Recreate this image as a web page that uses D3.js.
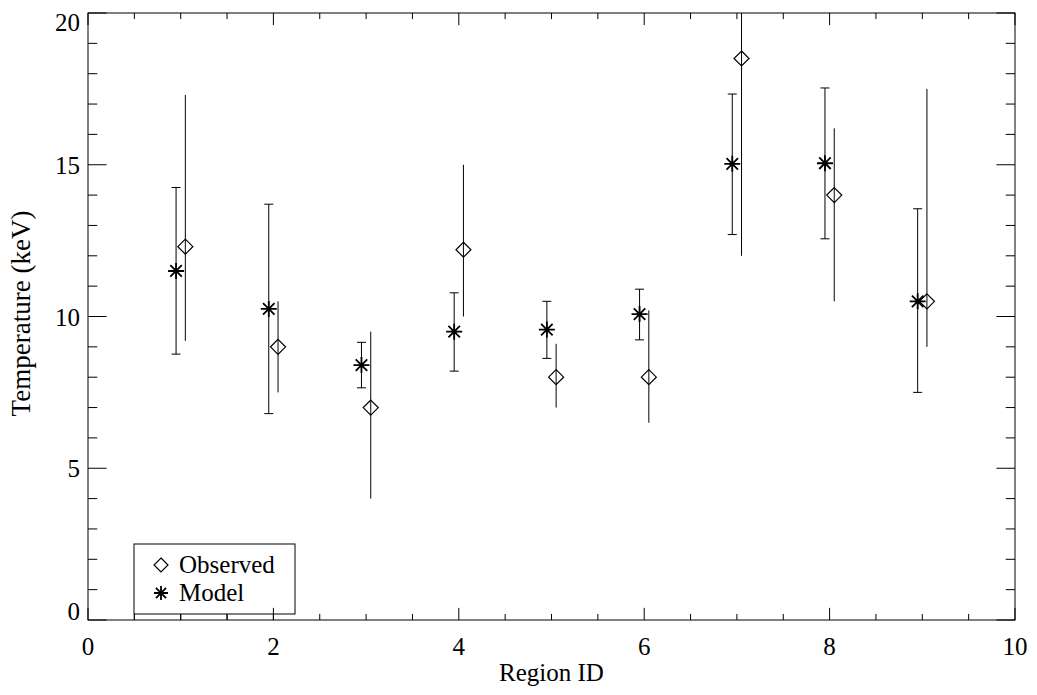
<!DOCTYPE html>
<html>
<head>
<meta charset="utf-8">
<script src="https://cdn.jsdelivr.net/npm/d3@7"></script>
<style>
  body { margin: 0; background: #fff; }
  svg text { font-family: "Liberation Serif", "Times New Roman", serif; fill: #000; }
</style>
</head>
<body>
<div id="chart"></div>
<script>
// Chart size
const width = 1037;
const height = 695;
const margin = { top: 13, right: 22, bottom: 75, left: 88 };
const plotW = width - margin.left - margin.right;
const plotH = height - margin.top - margin.bottom;

// Data
const regions = [1, 2, 3, 4, 5, 6, 7, 8, 9];
const observed = [12.3, 9.0, 7.0, 12.2, 8.0, 8.0, 18.5, 14.0, 10.5];
const observedLow = [9.2, 7.5, 4.0, 10.0, 7.0, 6.5, 12.0, 10.5, 9.0];
const observedHigh = [17.3, 10.5, 9.5, 15.0, 9.1, 10.2, 25.0, 16.2, 17.5];
const model = [11.5, 10.25, 8.4, 9.5, 9.57, 10.08, 15.03, 15.05, 10.5];
const modelLow = [8.76, 6.8, 7.65, 8.2, 8.62, 9.23, 12.7, 12.56, 7.5];
const modelHigh = [14.25, 13.7, 9.15, 10.78, 10.5, 10.9, 17.33, 17.53, 13.55];
const xTicks = [0, 2, 4, 6, 8, 10];
const yTicks = [0, 5, 10, 15, 20];
const legendLabels = ["Observed", "Model"];

const offset = 0.05; // model left, observed right of the region id

const svg = d3.select("#chart").append("svg")
    .attr("width", width)
    .attr("height", height);

const g = svg.append("g")
    .attr("transform", `translate(${margin.left},${margin.top})`);

const x = d3.scaleLinear().domain([0, 10]).range([0, plotW]);
const y = d3.scaleLinear().domain([0, 20]).range([plotH, 0]);

// tick lengths as in IDL: fraction of the other dimension
const xTickLen = 0.02 * plotH;
const yTickLen = 0.02 * plotW;
const xMinor = d3.range(0, 10.001, 0.5).filter(v => v % 2 !== 0);
const yMinor = d3.range(0, 20.001, 1).filter(v => v % 5 !== 0);

g.append("defs").append("clipPath").attr("id", "clip")
  .append("rect").attr("width", plotW).attr("height", plotH);

// ---- axes box ----
const axisColor = "#000";
function drawTicks(sel, values, len, orient) {
    sel.selectAll(null).data(values).enter().append("line")
        .attr("x1", d => orient === "b" || orient === "t" ? x(d) : (orient === "l" ? 0 : plotW))
        .attr("x2", d => orient === "b" || orient === "t" ? x(d) : (orient === "l" ? len : plotW - len))
        .attr("y1", d => orient === "l" || orient === "r" ? y(d) : (orient === "b" ? plotH : 0))
        .attr("y2", d => orient === "l" || orient === "r" ? y(d) : (orient === "b" ? plotH - len : len))
        .attr("stroke", axisColor)
        .attr("stroke-width", 1);
}
const axes = g.append("g").attr("class", "axes");
axes.append("rect")
    .attr("width", plotW).attr("height", plotH)
    .attr("fill", "none").attr("stroke", axisColor).attr("stroke-width", 1);
drawTicks(axes, xTicks, xTickLen, "b");
drawTicks(axes, xTicks, xTickLen, "t");
drawTicks(axes, xMinor, xTickLen / 2, "b");
drawTicks(axes, xMinor, xTickLen / 2, "t");
drawTicks(axes, yTicks, yTickLen, "l");
drawTicks(axes, yTicks, yTickLen, "r");
drawTicks(axes, yMinor, yTickLen / 2, "l");
drawTicks(axes, yMinor, yTickLen / 2, "r");

// tick labels
g.selectAll(".xlab").data(xTicks).enter().append("text")
    .attr("class", "xlab")
    .attr("x", d => x(d))
    .attr("y", plotH + 35)
    .attr("text-anchor", "middle")
    .style("font-size", "25px")
    .text(d => d);

g.selectAll(".ylab").data(yTicks).enter().append("text")
    .attr("class", "ylab")
    .attr("x", -8)
    // keep labels inside the box height, like IDL does
    .attr("y", d => Math.min(Math.max(y(d), 9), plotH - 9) + 9)
    .attr("text-anchor", "end")
    .style("font-size", "25px")
    .text(d => d);

// axis titles
svg.append("text")
    .attr("x", margin.left + plotW / 2)
    .attr("y", 681)
    .attr("text-anchor", "middle")
    .style("font-size", "25px")
    .text("Region ID");

svg.append("text")
    .attr("transform", `translate(30,${margin.top + plotH / 2 - 3}) rotate(-90)`)
    .attr("text-anchor", "middle")
    .style("font-size", "27px")
    .text("Temperature (keV)");

// ---- symbols ----
function diamond(sel, r) {
    sel.attr("d", `M0,${-r}L${r},0L0,${r}L${-r},0Z`)
        .attr("fill", "none").attr("stroke", "#000").attr("stroke-width", 1.2);
}
function asterisk(sel, r) {
    const d = r * 0.72;
    sel.attr("d", `M${-r},0L${r},0M0,${-r}L0,${r}M${-d},${-d}L${d},${d}M${-d},${d}L${d},${-d}`)
        .attr("fill", "none").attr("stroke", "#000").attr("stroke-width", 1.8);
}

const data = regions.map((r, i) => ({
    r, obs: observed[i], obsLo: observedLow[i], obsHi: observedHigh[i],
    mod: model[i], modLo: modelLow[i], modHi: modelHigh[i]
}));

const marks = g.append("g").attr("clip-path", "url(#clip)");

// observed error bars (no caps)
marks.selectAll(".obsErr").data(data).enter().append("line")
    .attr("x1", d => x(d.r + offset)).attr("x2", d => x(d.r + offset))
    .attr("y1", d => y(d.obsLo)).attr("y2", d => y(d.obsHi))
    .attr("stroke", "#000").attr("stroke-width", 1);

// model error bars with caps
const capW = 4.5;
const modErr = marks.selectAll(".modErr").data(data).enter().append("g");
modErr.append("line")
    .attr("x1", d => x(d.r - offset)).attr("x2", d => x(d.r - offset))
    .attr("y1", d => y(d.modLo)).attr("y2", d => y(d.modHi))
    .attr("stroke", "#000").attr("stroke-width", 1);
modErr.append("line")
    .attr("x1", d => x(d.r - offset) - capW).attr("x2", d => x(d.r - offset) + capW)
    .attr("y1", d => y(d.modLo)).attr("y2", d => y(d.modLo))
    .attr("stroke", "#000").attr("stroke-width", 1);
modErr.append("line")
    .attr("x1", d => x(d.r - offset) - capW).attr("x2", d => x(d.r - offset) + capW)
    .attr("y1", d => y(d.modHi)).attr("y2", d => y(d.modHi))
    .attr("stroke", "#000").attr("stroke-width", 1);

marks.selectAll(".obsPt").data(data).enter().append("path")
    .attr("transform", d => `translate(${x(d.r + offset)},${y(d.obs)})`)
    .call(diamond, 7.5);

marks.selectAll(".modPt").data(data).enter().append("path")
    .attr("transform", d => `translate(${x(d.r - offset)},${y(d.mod)})`)
    .call(asterisk, 8);

// ---- legend ----
const legend = g.append("g").attr("transform", `translate(${134 - margin.left},${544 - margin.top})`);
legend.append("rect")
    .attr("width", 161).attr("height", 70)
    .attr("fill", "#fff").attr("stroke", "#000").attr("stroke-width", 1);
legendLabels.forEach((lab, i) => {
    const ly = 21 + i * 28;
    legend.append("path")
        .attr("transform", `translate(27,${ly})`)
        .call(i === 0 ? diamond : asterisk, 7);
    legend.append("text")
        .attr("x", 45).attr("y", ly + 7.5)
        .style("font-size", "25px")
        .text(lab);
});
// x-axis ticks show through the legend box bottom
g.append("g").call(sel => {
    drawTicks(sel, xTicks.filter(v => x(v) > 46 && x(v) < 207), xTickLen, "b");
    drawTicks(sel, xMinor.filter(v => x(v) > 46 && x(v) < 207), xTickLen / 2, "b");
});
</script>
</body>
</html>
